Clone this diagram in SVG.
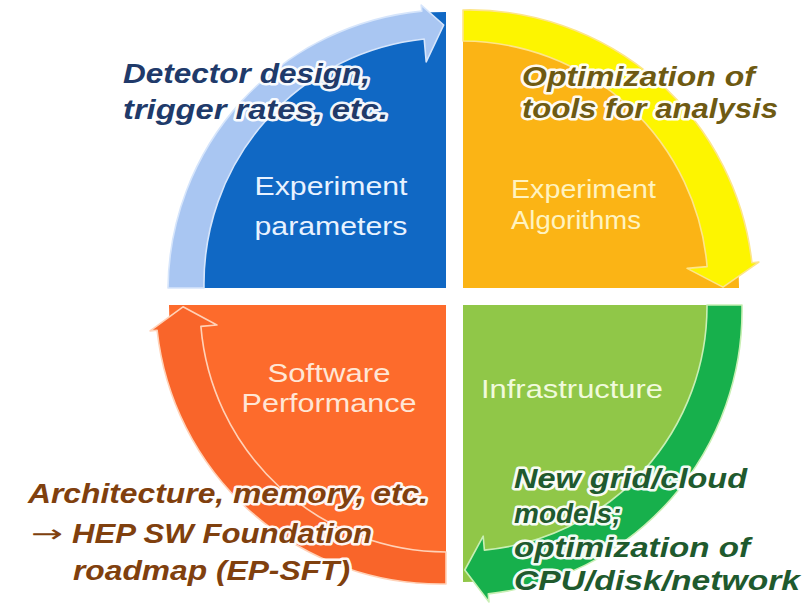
<svg xmlns="http://www.w3.org/2000/svg" width="803" height="609" viewBox="0 0 803 609">
<style>
.lab{font-family:"Liberation Sans",Arial,sans-serif;font-size:26px;}
.ann{font-family:"Liberation Sans",Arial,sans-serif;font-size:28px;font-weight:bold;font-style:italic;paint-order:stroke;stroke:#ffffff;stroke-width:5px;stroke-linejoin:round;stroke-opacity:0.95;}
.arr{stroke-width:1.6;stroke-linejoin:round;}
</style>
<rect width="803" height="609" fill="#ffffff"/>
<g id="experiment-parameters">
<path d="M446,288 H170 A276,276 0 0 1 446,12 Z" fill="#1068c4"/>
<text class="lab" fill="#e8f2ff" x="331" y="195" text-anchor="middle" textLength="153" lengthAdjust="spacingAndGlyphs">Experiment</text>
<text class="lab" fill="#e8f2ff" x="331" y="235" text-anchor="middle" textLength="153" lengthAdjust="spacingAndGlyphs">parameters</text>
</g>
<g id="experiment-algorithms">
<path d="M463,288 V12 A276,276 0 0 1 739,288 Z" fill="#fbb415"/>
<text class="lab" fill="#fff3c0" x="511" y="198" textLength="145" lengthAdjust="spacingAndGlyphs">Experiment</text>
<text class="lab" fill="#fff3c0" x="511" y="229" textLength="130" lengthAdjust="spacingAndGlyphs">Algorithms</text>
</g>
<g id="infrastructure">
<path d="M463,305 H740 A277,277 0 0 1 463,582 Z" fill="#90c748"/>
<text class="lab" fill="#f0fadc" x="481" y="398" textLength="182" lengthAdjust="spacingAndGlyphs">Infrastructure</text>
</g>
<g id="software-performance">
<path d="M446,305 V582 A277,277 0 0 1 169,305 Z" fill="#fd6b2c"/>
<text class="lab" fill="#ffe6d5" x="329" y="382" text-anchor="middle" textLength="123" lengthAdjust="spacingAndGlyphs">Software</text>
<text class="lab" fill="#ffe6d5" x="329" y="412" text-anchor="middle" textLength="175" lengthAdjust="spacingAndGlyphs">Performance</text>
</g>
<g id="connectors">
<path class="arr" d="M168,288 A281,281 0 0 1 421.8,11.1 L421.2,5.1 L443.7,25 L426.2,61.9 L424.2,39 A246,246 0 0 0 204,288 Z" fill="#a9c6f2" stroke="#d6e5fb"/>
<path class="arr" d="M463,10 A284,284 0 0 1 751.9,262.7 L758.9,262.1 L723,287.1 L687.1,268.4 L707.1,266.6 A246,246 0 0 0 463,41 Z" fill="#fdf500" stroke="#fde58a"/>
<path class="arr" d="M742,305 A285,285 0 0 1 488.3,593.9 L489,601.9 L464.8,570 L483.2,536.1 L484.4,550.1 A245,245 0 0 0 707,305 Z" fill="#17b04c" stroke="#c8efb4"/>
<path class="arr" d="M446,584 A285,285 0 0 1 157.1,330.3 L150.1,330.9 L183,306.8 L216.9,325 L200.9,326.4 A246,246 0 0 0 446,552 Z" fill="#f9652a" stroke="#ffd2b8"/>
</g>
<g id="notes">
<text class="ann" fill="#203a6a" x="123" y="83" textLength="247" lengthAdjust="spacingAndGlyphs">Detector design,</text>
<text class="ann" fill="#203a6a" x="123" y="119" textLength="265" lengthAdjust="spacingAndGlyphs">trigger rates, etc.</text>
<text class="ann" fill="#6e5a12" x="522" y="86" textLength="233" lengthAdjust="spacingAndGlyphs">Optimization of</text>
<text class="ann" fill="#6e5a12" x="522" y="118" textLength="256" lengthAdjust="spacingAndGlyphs">tools for analysis</text>
<text class="ann" fill="#1f5a2e" x="514" y="488" textLength="233" lengthAdjust="spacingAndGlyphs">New grid/cloud</text>
<text class="ann" fill="#1f5a2e" x="514" y="523">models;</text>
<text class="ann" fill="#1f5a2e" x="514" y="557" textLength="236" lengthAdjust="spacingAndGlyphs">optimization of</text>
<text class="ann" fill="#1f5a2e" x="514" y="590" textLength="286" lengthAdjust="spacingAndGlyphs">CPU/disk/network</text>
<text class="ann" fill="#80400e" x="28" y="503" textLength="400" lengthAdjust="spacingAndGlyphs">Architecture, memory, etc.</text>
<text class="ann" fill="#80400e" x="31" y="542" style="font-weight:normal;font-style:normal;font-family:'DejaVu Sans',sans-serif;font-size:24px" textLength="32" lengthAdjust="spacingAndGlyphs">→</text>
<text class="ann" fill="#80400e" x="72" y="543" textLength="300" lengthAdjust="spacingAndGlyphs">HEP SW Foundation</text>
<text class="ann" fill="#80400e" x="73" y="580" textLength="277" lengthAdjust="spacingAndGlyphs">roadmap (EP-SFT)</text>
</g>
</svg>
